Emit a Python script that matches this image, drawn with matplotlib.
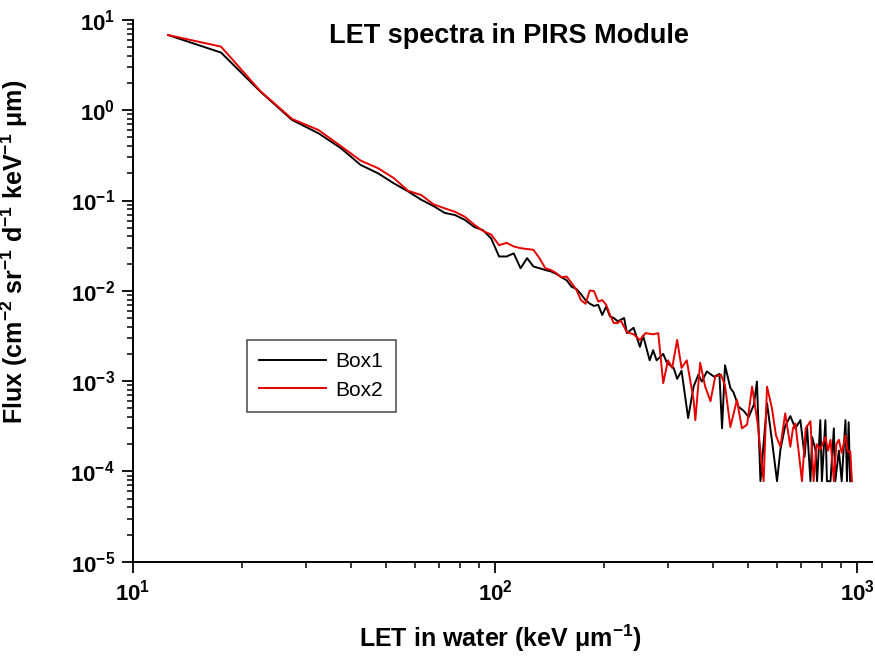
import numpy as np
import matplotlib
matplotlib.use("Agg")
from matplotlib import pyplot as plt
from matplotlib.ticker import LogLocator, NullFormatter, FixedLocator

plt.rcParams['font.family'] = ['Liberation Sans', 'DejaVu Sans']
plt.rcParams['mathtext.fontset'] = 'custom'
plt.rcParams['mathtext.rm'] = 'Liberation Sans:bold'
plt.rcParams['mathtext.bf'] = 'Liberation Sans:bold'

# LET (keV/um) and flux, Box1 (black)
let_box1 = [12.5, 17.5, 22.5, 27.5, 32.5, 37.5, 42.5, 47.5, 52.5, 57.5,
            62.5, 67.5, 72.5, 77.5, 82.5, 87.5, 92.5, 97.5, 102.5, 107.5,
            112.5, 117.5, 122.5, 127.5, 132.5, 137.5, 142.5, 147.5, 152.5, 157.5,
            162.5, 167.5, 172.5, 177.5, 182.5, 187.5, 192.5, 197.5, 202.5, 207.5,
            212.5, 218, 227, 231, 241, 251, 256, 267, 273, 279,
            291, 298, 311, 318, 327, 341, 353, 364, 372, 384,
            402, 416, 423, 431, 446, 455, 470, 485, 501, 518,
            528, 540, 563, 581, 600, 613, 632, 653, 674, 696,
            715, 726, 742, 750, 766, 774, 790, 798, 816, 824,
            843, 861, 869, 889, 905, 927, 936, 946, 955]
flux_box1 = [6.8, 4.35, 1.6, 0.78, 0.556, 0.38, 0.248, 0.20, 0.155, 0.126,
             0.102, 0.087, 0.073, 0.069, 0.061, 0.051, 0.047, 0.038, 0.024, 0.024,
             0.026, 0.0178, 0.023, 0.0186, 0.0178, 0.017, 0.0164, 0.0154, 0.0141, 0.0131,
             0.0111, 0.0105, 0.0092, 0.0079, 0.0072, 0.0068, 0.0070, 0.0054, 0.0067, 0.0052,
             0.0050, 0.0046, 0.0050, 0.0034, 0.0039, 0.0024, 0.0032, 0.0017, 0.0022, 0.0017,
             0.0020, 0.0016, 0.0014, 0.00106, 0.0013, 0.00039, 0.00087, 0.00118, 0.00099, 0.00128,
             0.00112, 0.0012, 0.0003, 0.0015, 0.00084, 0.00075, 0.00052, 0.00047, 0.0004, 0.00055,
             0.00099, 7.8e-5, 0.00057, 0.00022, 7.8e-5, 0.000174, 0.00032, 0.00041, 0.0003, 0.00037,
             0.000146, 0.00032, 7.8e-5, 0.00024, 0.000174, 7.8e-5, 0.00037, 7.8e-5, 0.00037, 7.8e-5,
             7.8e-5, 0.0003, 7.8e-5, 0.00017, 7.8e-5, 0.00037, 7.8e-5, 0.00035, 7.8e-5]

# Box2 (red)
let_box2 = [12.5, 17.5, 22.5, 27.5, 32.5, 37.5, 42.5, 47.5, 52.5, 57.5,
            62.5, 67.5, 72.5, 77.5, 82.5, 87.5, 92.5, 97.5, 102.5, 107.5,
            112.5, 117.5, 122.5, 127.5, 132.5, 137.5, 142.5, 147.5, 152.5, 157.5,
            162.5, 167.5, 172.5, 177.5, 182.5, 187.5, 192.5, 197.5, 202.5, 207.5,
            212.5, 218, 222, 231, 241, 251, 260, 273, 282, 291,
            300, 308, 318, 327, 338, 353, 357, 368, 380, 393,
            405, 420, 431, 446, 465, 480, 496, 512, 530, 551,
            563, 581, 596, 613, 632, 653, 664, 674, 688, 703,
            720, 742, 757, 772, 790, 816, 830, 843, 861, 875,
            889, 905, 927, 940, 956, 966]
flux_box2 = [6.8, 5.06, 1.62, 0.80, 0.605, 0.40, 0.277, 0.228, 0.177, 0.128,
             0.115, 0.091, 0.082, 0.075, 0.066, 0.054, 0.046, 0.042, 0.032, 0.034,
             0.031, 0.0297, 0.029, 0.0285, 0.023, 0.0178, 0.017, 0.0157, 0.0141, 0.0144,
             0.0122, 0.0103, 0.0079, 0.0072, 0.0101, 0.0099, 0.0076, 0.0079, 0.0070, 0.0054,
             0.0044, 0.0044, 0.0047, 0.0035, 0.0033, 0.00286, 0.0034, 0.0033, 0.0034, 0.00095,
             0.0017, 0.0014, 0.00286, 0.0014, 0.0017, 0.00062, 0.00037, 0.0016, 0.00087, 0.0006,
             0.00112, 0.00118, 0.0009, 0.00031, 0.00062, 0.0003, 0.00033, 0.00087, 0.00035, 7.8e-5,
             0.00087, 0.0005, 0.00025, 0.000188, 0.00044, 0.000188, 0.0003, 0.00034, 0.00017, 7.8e-5,
             0.0003, 0.00036, 7.8e-5, 0.0002, 0.000174, 0.00024, 0.00017, 0.000224, 7.8e-5, 0.0002,
             0.000224, 0.00016, 0.00025, 0.000166, 0.000166, 7.8e-5]

x_major = [10, 100, 1000]
y_major = [1e-5, 1e-4, 1e-3, 1e-2, 1e-1, 1, 10]

fig = plt.figure(figsize=(8.75, 6.64), dpi=100)
ax = fig.add_axes([0.152, 0.154, 0.845, 0.816])

ax.plot(let_box1, flux_box1, color='black', lw=1.4, label='Box1')
ax.plot(let_box2, flux_box2, color='#e60000', lw=1.4, label='Box2')

ax.set_xscale('log')
ax.set_yscale('log')
ax.set_xlim(10, 1100)
ax.set_ylim(1e-5, 10)

for s in ['top', 'right']:
    ax.spines[s].set_visible(False)
for s in ['left', 'bottom']:
    ax.spines[s].set_linewidth(1.4)

ax.xaxis.set_major_locator(FixedLocator(x_major))
ax.yaxis.set_major_locator(FixedLocator(y_major))
ax.xaxis.set_minor_locator(LogLocator(base=10, subs=np.arange(2, 10), numticks=20))
ax.yaxis.set_minor_locator(LogLocator(base=10, subs=np.arange(2, 10), numticks=20))
ax.xaxis.set_minor_formatter(NullFormatter())
ax.yaxis.set_minor_formatter(NullFormatter())
ax.tick_params(which='major', direction='out', length=8, width=1.3, labelsize=16, pad=5)
ax.tick_params(which='minor', direction='out', length=4, width=1.1)
for lab in ax.get_xticklabels() + ax.get_yticklabels():
    lab.set_fontweight('bold')

ax.set_xlabel(r'LET in water (keV μm$^{\mathdefault{-1}}$)', fontsize=18, fontweight='bold')
ax.xaxis.set_label_coords(0.497, -0.112)
ax.set_ylabel(r'Flux (cm$^{\mathdefault{-2}}$ sr$^{\mathdefault{-1}}$ d$^{\mathdefault{-1}}$ '
              r'keV$^{\mathdefault{-1}}$ μm)', fontsize=18, fontweight='bold')
ax.yaxis.set_label_coords(-0.139, 0.572)

fig.text(509 / 875, 1 - 36 / 664, 'LET spectra in PIRS Module', fontsize=19.5,
         fontweight='bold', ha='center', va='center')

leg = ax.legend(loc='lower left', bbox_to_anchor=(0.154, 0.276), borderaxespad=0,
                fontsize=15, fancybox=False, framealpha=1, edgecolor='#555555',
                handlelength=3.2, handletextpad=0.45, borderpad=0.6, labelspacing=0.45)
leg.get_frame().set_linewidth(1.2)

fig.savefig('out.png', dpi=100)
